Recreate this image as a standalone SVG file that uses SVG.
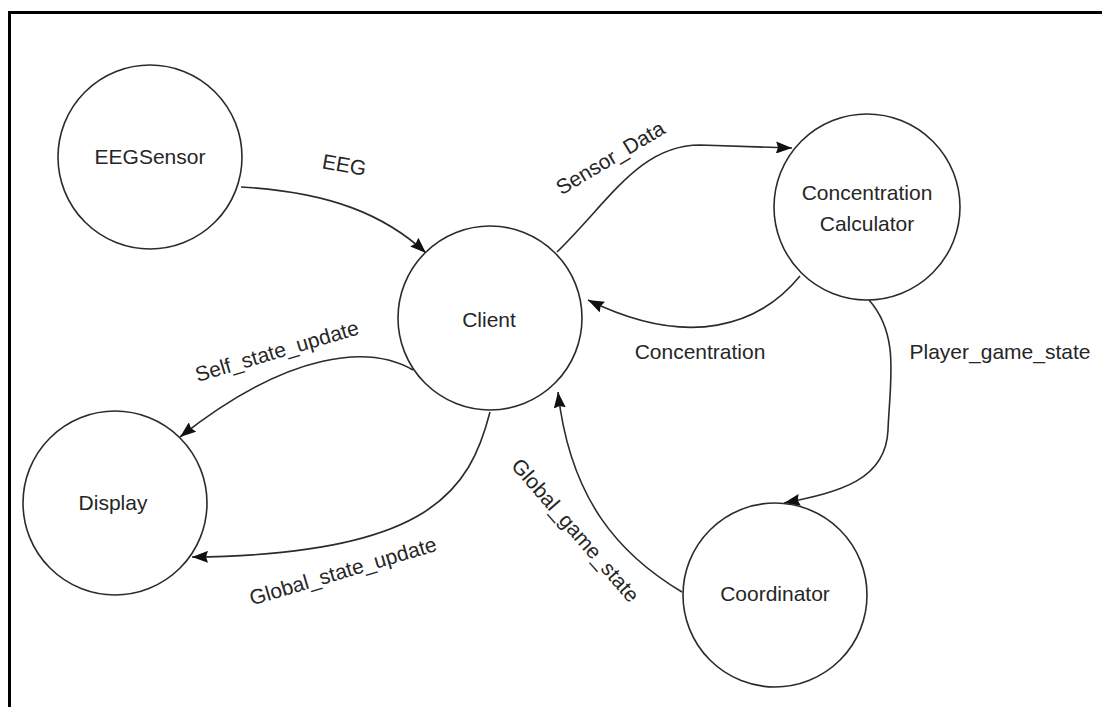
<svg xmlns="http://www.w3.org/2000/svg" width="1102" height="707" viewBox="0 0 1102 707">
  <style>
    .node circle { fill: #ffffff; stroke: #2b2b2b; stroke-width: 1.6; }
    .node text, .label { font-family: "Liberation Sans", Arial, sans-serif; font-size: 21px; fill: #262626; text-anchor: middle; }
    .edge { fill: none; stroke: #2b2b2b; stroke-width: 1.6; marker-end: url(#arrow); }
    .frame { stroke: #000000; stroke-width: 3; fill: none; }
  </style>
  <defs>
    <marker id="arrow" markerUnits="userSpaceOnUse" markerWidth="17" markerHeight="12" refX="16" refY="6" orient="auto">
      <path d="M0,0 L16,6 L0,12 L2,6 z" fill="#111111"/>
    </marker>
  </defs>

  <rect width="1102" height="707" fill="#ffffff"/>
  <!-- page border (top and left) -->
  <path class="frame" d="M9.5,707 L9.5,12.5 L1102,12.5"/>

  <!-- connectors -->
  <g id="connectors">
    <path class="edge" d="M241,187 C330,192 385,215 426,253"/>
    <path class="edge" d="M557,252 C610,200 640,145 700,145 L792,148"/>
    <path class="edge" d="M800,276 C760,325 690,350 588,300"/>
    <path class="edge" d="M869,300 C900,335 890,380 888,430 C886,480 840,492 784,503"/>
    <path class="edge" d="M682,592 C620,555 570,500 558,392"/>
    <path class="edge" d="M413,370 C370,345 290,350 180,437"/>
    <path class="edge" d="M490,412 C470,490 430,555 192,557"/>

    <text class="label" transform="translate(343,172) rotate(10)">EEG</text>
    <text class="label" transform="translate(614,164) rotate(-31)">Sensor_Data</text>
    <text class="label" x="700" y="359">Concentration</text>
    <text class="label" x="1000" y="359">Player_game_state</text>
    <text class="label" transform="translate(570,535) rotate(49)">Global_game_state</text>
    <text class="label" transform="translate(279,358) rotate(-16.5)">Self_state_update</text>
    <text class="label" transform="translate(345,578) rotate(-16.5)">Global_state_update</text>
  </g>

  <!-- nodes -->
  <g id="EEGSensor" class="node">
    <circle cx="150" cy="157" r="92"/>
    <text x="150" y="164">EEGSensor</text>
  </g>
  <g id="Client" class="node">
    <circle cx="490" cy="318" r="92"/>
    <text x="489" y="327">Client</text>
  </g>
  <g id="ConcentrationCalculator" class="node">
    <circle cx="867" cy="207" r="93"/>
    <text x="867" y="200">Concentration</text>
    <text x="867" y="231">Calculator</text>
  </g>
  <g id="Display" class="node">
    <circle cx="115" cy="503" r="92"/>
    <text x="113" y="510">Display</text>
  </g>
  <g id="Coordinator" class="node">
    <circle cx="775" cy="595" r="92"/>
    <text x="775" y="601">Coordinator</text>
  </g>
</svg>
